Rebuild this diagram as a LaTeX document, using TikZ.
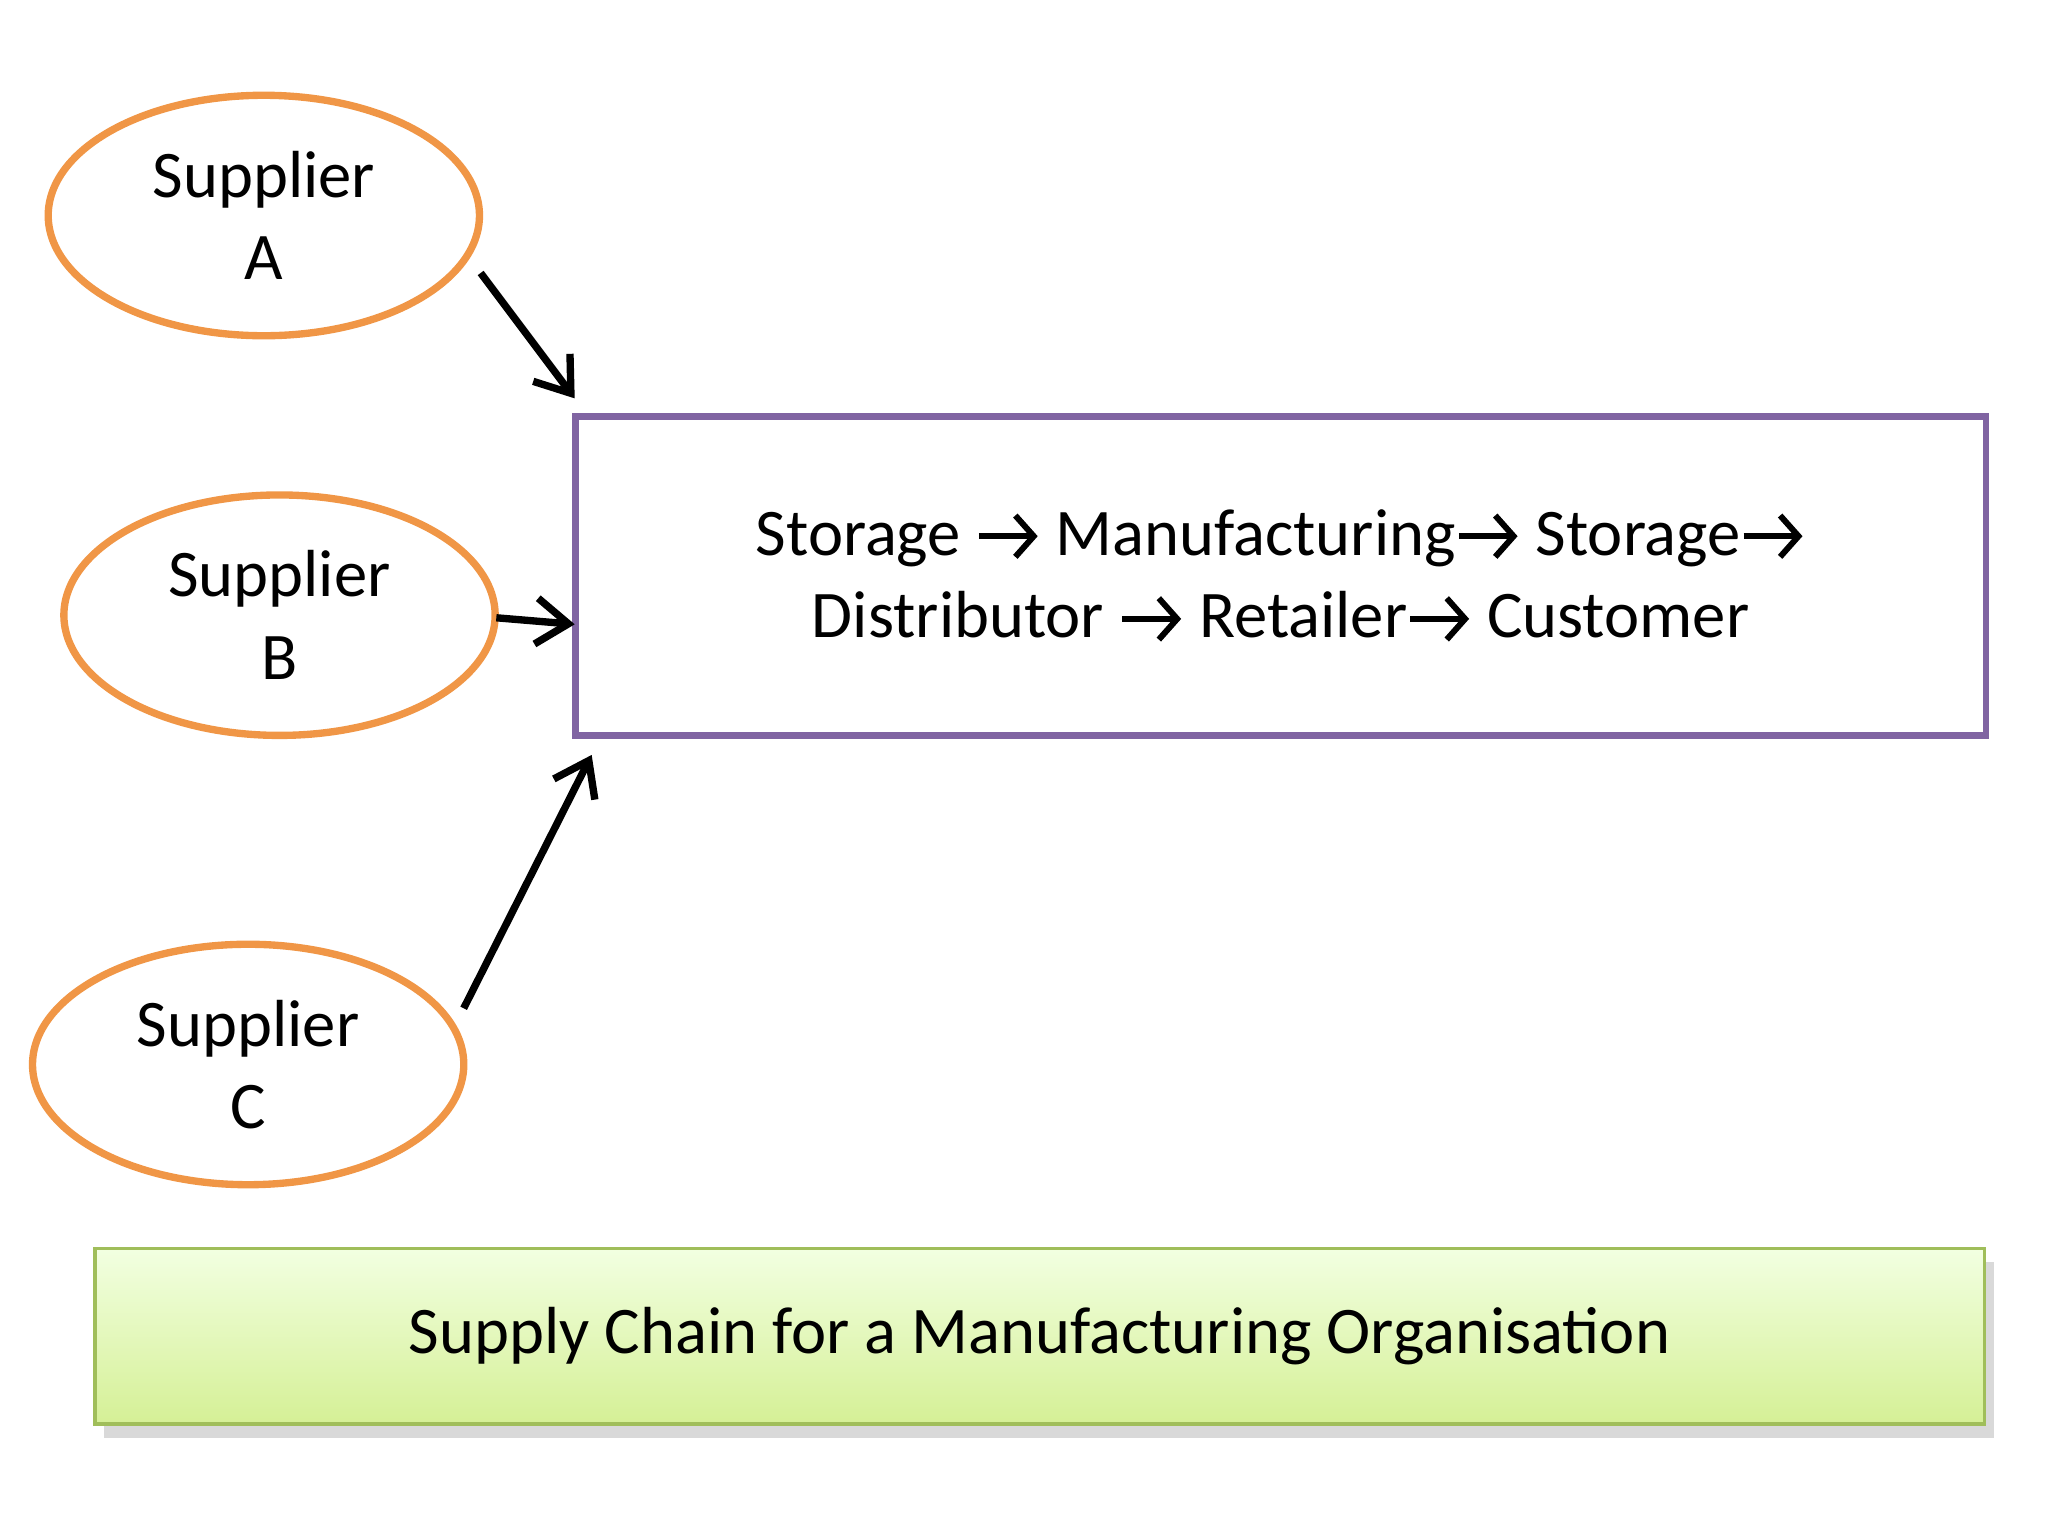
\documentclass[tikz,border=0pt]{standalone}
\usepackage{fontspec}
\setmainfont{Carlito}
\usetikzlibrary{shadows,shapes.geometric,arrows.meta}
\definecolor{sorange}{RGB}{240,150,70}
\definecolor{spurple}{RGB}{128,100,162}
\definecolor{sgreen}{RGB}{160,190,90}
\newcommand{\ar}{\tikz[baseline=-0.6ex]\draw[-{Straight Barb[length=4pt,width=9pt]},line width=1.3pt] (0cm,0cm)--(0.45cm,0cm);}
\begin{document}
\begin{tikzpicture}[x=0.01cm,y=-0.01cm,
  sup/.style={draw=sorange,line width=1.6pt,ellipse,minimum width=3.3cm,minimum height=1.84cm,align=center,font=\fontsize{14.5}{18}\selectfont,inner sep=0pt},
  arr/.style={-{Straight Barb[length=7pt,width=10pt]},line width=1.6pt}]
\useasboundingbox (0,0) rectangle (1568,1176);
\node[sup] (a) at (202,165) {Supplier\\A};
\node[sup] (b) at (214,471) {Supplier\\B};
\node[sup] (c) at (190,815) {Supplier\\C};
\node[draw=spurple,line width=1.4pt,minimum width=10.79cm,minimum height=2.44cm,inner sep=0pt,align=center,font=\fontsize{14.5}{18}\selectfont] (box) at (980.5,441)
 {Storage \ar{} Manufacturing\ar{} Storage\ar\\Distributor \ar{} Retailer\ar{} Customer};
\node[draw=sgreen,line width=0.8pt,top color={rgb,255:red,242;green,255;blue,225},bottom color={rgb,255:red,213;green,240;blue,150},minimum width=14.46cm,minimum height=1.34cm,inner sep=0pt,drop shadow={shadow xshift=2pt,shadow yshift=-3pt,opacity=0.3},font=\fontsize{14.5}{18}\selectfont] (t) at (796,1023) {Supply Chain for a Manufacturing Organisation};
\coordinate (a1) at (368,209); \coordinate (a2) at (440,305);
\coordinate (b1) at (380,473); \coordinate (b2) at (440,478);
\coordinate (c1) at (355,772); \coordinate (c2) at (453,578);
\draw[arr] (a1) -- (a2);
\draw[arr] (b1) -- (b2);
\draw[arr] (c1) -- (c2);
\end{tikzpicture}
\end{document}
